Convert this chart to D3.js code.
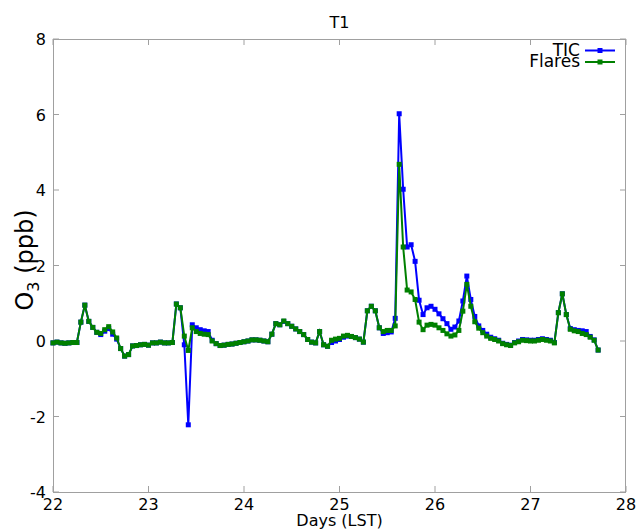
<!DOCTYPE html>
<html>
<head>
<meta charset="utf-8">
<script src="https://cdn.jsdelivr.net/npm/d3@7"></script>
<style>
  html, body { margin: 0; padding: 0; background: #fff; }
  svg { display: block; font-family: "DejaVu Sans", sans-serif; }
</style>
</head>
<body>
<svg id="chart" width="636" height="530"></svg>
<script>
// hourly samples, first one at day 22.0 (LST)
var startDay = 22;
var hoursPerDay = 24;

// Flares run, O3 in ppb, one value per hour
var flares = [
  -0.05, -0.03, -0.05, -0.06, -0.05, -0.04, -0.04, 0.50, 0.95, 0.52,
  0.36, 0.23, 0.20, 0.30, 0.38, 0.24, 0.08, -0.20, -0.40, -0.36,
  -0.13, -0.12, -0.10, -0.09, -0.11, -0.05, -0.05, -0.03, -0.05, -0.05,
  -0.04, 0.98, 0.88, 0.13, -0.25, 0.35, 0.25, 0.20, 0.18, 0.17,
  0.00, -0.07, -0.12, -0.11, -0.09, -0.08, -0.06, -0.04, -0.02, 0.00,
  0.03, 0.03, 0.02, 0.00, -0.02, 0.18, 0.46, 0.43, 0.53, 0.46,
  0.39, 0.32, 0.25, 0.17, 0.04, -0.03, -0.05, 0.25, -0.10, -0.14,
  0.02, 0.05, 0.07, 0.13, 0.15, 0.12, 0.09, 0.05, -0.03, 0.80,
  0.92, 0.80, 0.35, 0.25, 0.28, 0.28, 0.40, 4.68, 2.49, 1.35,
  1.30, 1.10, 0.50, 0.30, 0.42, 0.44, 0.42, 0.35, 0.28, 0.19,
  0.13, 0.16, 0.28, 0.79, 1.50, 0.92, 0.51, 0.34, 0.22, 0.13,
  0.07, 0.04, 0.00, -0.07, -0.10, -0.12, -0.05, -0.02, 0.02, 0.01,
  0.00, 0.00, 0.02, 0.04, 0.02, 0.00, -0.05, 0.75, 1.25, 0.70,
  0.31, 0.27, 0.25, 0.20, 0.17, 0.10, 0.02, -0.24
];

// TIC run
var tic = [
  -0.05, -0.03, -0.05, -0.06, -0.05, -0.04, -0.04, 0.50, 0.95, 0.52,
  0.36, 0.23, 0.17, 0.26, 0.33, 0.18, 0.05, -0.20, -0.40, -0.36,
  -0.13, -0.12, -0.10, -0.09, -0.11, -0.05, -0.05, -0.03, -0.05, -0.05,
  -0.04, 0.98, 0.88, -0.10, -2.22, 0.43, 0.35, 0.30, 0.27, 0.25,
  0.02, -0.07, -0.12, -0.11, -0.09, -0.08, -0.06, -0.04, -0.02, 0.00,
  0.03, 0.03, 0.02, 0.00, -0.02, 0.18, 0.46, 0.43, 0.52, 0.46,
  0.39, 0.32, 0.25, 0.17, 0.04, -0.03, -0.05, 0.25, -0.10, -0.14,
  -0.04, 0.00, 0.04, 0.10, 0.13, 0.12, 0.09, 0.05, -0.03, 0.80,
  0.92, 0.80, 0.35, 0.20, 0.22, 0.24, 0.60, 6.02, 4.02, 2.49,
  2.55, 2.11, 1.08, 0.70, 0.88, 0.92, 0.84, 0.72, 0.59, 0.46,
  0.31, 0.37, 0.53, 1.06, 1.72, 1.10, 0.65, 0.40, 0.28, 0.18,
  0.10, 0.06, 0.02, -0.06, -0.09, -0.11, -0.04, 0.00, 0.04, 0.03,
  0.02, 0.02, 0.04, 0.06, 0.04, 0.02, -0.04, 0.75, 1.25, 0.70,
  0.33, 0.30, 0.28, 0.27, 0.25, 0.12, 0.03, -0.24
];

var xTicks = [22, 23, 24, 25, 26, 27, 28];
var yTicks = [-4, -2, 0, 2, 4, 6, 8];

var series = [
  { name: "TIC", color: "#0000ff", values: tic },
  { name: "Flares", color: "#008000", values: flares }
];

var svg = d3.select("#chart");
var plotLeft = 53, plotRight = 626, plotTop = 39, plotBottom = 492;

var x = d3.scaleLinear().domain([22, 28]).range([plotLeft, plotRight]);
var y = d3.scaleLinear().domain([-4, 8]).range([plotBottom, plotTop]);

var frameColor = "#a0a0a0";

// ticks, pointing inward on all four sides
var tickLen = 6;
var g = svg.append("g");
xTicks.forEach(function (t) {
  g.append("line").attr("x1", x(t)).attr("x2", x(t)).attr("y1", plotBottom).attr("y2", plotBottom - tickLen)
    .attr("stroke", frameColor);
  g.append("line").attr("x1", x(t)).attr("x2", x(t)).attr("y1", plotTop).attr("y2", plotTop + tickLen)
    .attr("stroke", frameColor);
  g.append("text").attr("x", x(t)).attr("y", plotBottom + 18).attr("text-anchor", "middle")
    .attr("font-size", 16).attr("fill", "#000").text(t);
});
yTicks.forEach(function (t) {
  g.append("line").attr("x1", plotLeft).attr("x2", plotLeft + tickLen).attr("y1", y(t)).attr("y2", y(t))
    .attr("stroke", frameColor);
  g.append("line").attr("x1", plotRight).attr("x2", plotRight - tickLen).attr("y1", y(t)).attr("y2", y(t))
    .attr("stroke", frameColor);
  g.append("text").attr("x", plotLeft - 7).attr("y", y(t) + 6).attr("text-anchor", "end")
    .attr("font-size", 16).attr("fill", "#000").text(t);
});

// frame
svg.append("rect")
  .attr("x", plotLeft + 0.5).attr("y", plotTop + 0.5)
  .attr("width", plotRight - plotLeft - 1).attr("height", plotBottom - plotTop)
  .attr("fill", "none").attr("stroke", frameColor);

// data
var line = d3.line()
  .x(function (d, i) { return x(startDay + i / hoursPerDay); })
  .y(function (d) { return y(d); });

var plot = svg.append("g");
series.forEach(function (s) {
  plot.append("path")
    .datum(s.values)
    .attr("d", line)
    .attr("fill", "none")
    .attr("stroke", s.color)
    .attr("stroke-width", 2);
  plot.selectAll(null)
    .data(s.values)
    .enter()
    .append("rect")
    .attr("x", function (d, i) { return x(startDay + i / hoursPerDay) - 2.5; })
    .attr("y", function (d) { return y(d) - 2.5; })
    .attr("width", 5)
    .attr("height", 5)
    .attr("fill", s.color);
});

// legend
series.forEach(function (s, i) {
  var ly = 50.5 + i * 11.5;
  svg.append("text").attr("x", 580).attr("y", ly + 5).attr("text-anchor", "end")
    .attr("font-size", 17).attr("fill", "#000").text(s.name);
  svg.append("line").attr("x1", 585).attr("x2", 615).attr("y1", ly).attr("y2", ly)
    .attr("stroke", s.color).attr("stroke-width", 2);
  svg.append("rect").attr("x", 597.5).attr("y", ly - 2.5).attr("width", 5).attr("height", 5)
    .attr("fill", s.color);
});

// title and axis labels
svg.append("text").attr("x", (plotLeft + plotRight) / 2).attr("y", 28).attr("text-anchor", "middle")
  .attr("font-size", 16).text("T1");
svg.append("text").attr("x", (plotLeft + plotRight) / 2).attr("y", 526).attr("text-anchor", "middle")
  .attr("font-size", 16).text("Days (LST)");

var yl = svg.append("text")
  .attr("transform", "translate(33,260) rotate(-90)")
  .attr("text-anchor", "middle")
  .attr("font-size", 24);
yl.append("tspan").text("O");
yl.append("tspan").attr("font-size", 16).attr("dy", 6).text("3");
yl.append("tspan").attr("dy", -6).text(" (ppb)");
</script>
</body>
</html>
